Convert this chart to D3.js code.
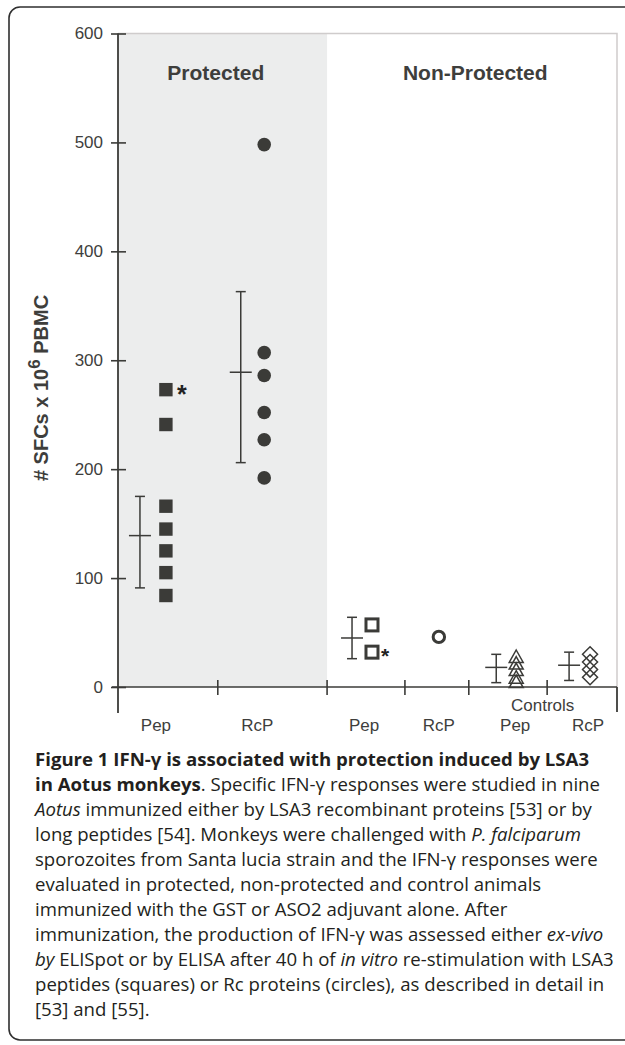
<!DOCTYPE html>
<html>
<head>
<meta charset="utf-8">
<script src="https://cdn.jsdelivr.net/npm/d3@7"></script>
<style>
  body { margin: 0; background: #fff; }
  svg { display: block; }
</style>
</head>
<body>
<div id="chart"></div>
<script>
// Data
const categories = ['Pep', 'RcP', 'Pep', 'RcP', 'Pep', 'RcP'];
const groupNames = ['Protected', 'Non-Protected'];
const controlsLabel = 'Controls';
const yTicks = [0, 100, 200, 300, 400, 500, 600];

const pointValues = [
  [273, 241, 166, 145, 125, 105, 84],
  [498, 307, 286, 252, 227, 192],
  [57, 32],
  [46],
  [28, 22, 16, 9, 5],
  [30, 23, 16, 9]
];
const meanValues = [139, 289, 45, null, 18, 20];
const lowValues = [91, 206, 26, null, 4, 6];
const highValues = [175, 363, 64, null, 30, 32];
// index of the point marked with an asterisk, per category
const starredPoint = [0, null, 1, null, null, null];

const captionLines = [
  [['Figure 1 IFN-\u03b3 is associated with protection induced by LSA3', 'b']],
  [['in Aotus monkeys', 'b'], ['. Specific IFN-\u03b3 responses were studied in nine', 'n']],
  [['Aotus', 'i'], [' immunized either by LSA3 recombinant proteins [53] or by', 'n']],
  [['long peptides [54]. Monkeys were challenged with ', 'n'], ['P. falciparum', 'i']],
  [['sporozoites from Santa lucia strain and the IFN-\u03b3 responses were', 'n']],
  [['evaluated in protected, non-protected and control animals', 'n']],
  [['immunized with the GST or ASO2 adjuvant alone. After', 'n']],
  [['immunization, the production of IFN-\u03b3 was assessed either ', 'n'], ['ex-vivo', 'i']],
  [['by', 'i'], [' ELISpot or by ELISA after 40 h of ', 'n'], ['in vitro', 'i'], [' re-stimulation with LSA3', 'n']],
  [['peptides (squares) or Rc proteins (circles), as described in detail in', 'n']],
  [['[53] and [55].', 'n']]
];

// Layout (x positions in percent of the x axis)
const layout = {
  width: 625, height: 1045,
  left: 118, right: 617, top: 33.5, bottom: 687,
  boundaries: [20.0, 41.9, 57.5, 70.3, 86.0],
  labelPos: [7.6, 27.9, 49.3, 64.3, 79.6, 94.2],
  barPos: [4.4, 24.6, 46.9, null, 75.8, 90.4],
  markPos: [9.6, 29.3, 50.9, 64.3, 79.8, 94.6],
  shapes: ['square', 'circle', 'openSquare', 'openCircle', 'triangle', 'diamond'],
  groupPos: [19.6, 71.6],
  groupY: 557,
  ink: '#3b3b38',
  text: '#3e3e3c',
  shade: '#eceded',
  font: '"Liberation Sans", Arial, sans-serif',
  captionFont: '"Open Sans", sans-serif'
};

const svg = d3.select('#chart').append('svg')
  .attr('width', layout.width)
  .attr('height', layout.height);

const x = d3.scaleLinear().domain([0, 100]).range([layout.left, layout.right]);
const y = d3.scaleLinear().domain([0, 600]).range([layout.bottom, layout.top]);

// Outer frame
svg.append('rect')
  .attr('x', 9).attr('y', 7)
  .attr('width', 660).attr('height', 1033)
  .attr('rx', 11)
  .attr('fill', 'none')
  .attr('stroke', '#2f2f2f')
  .attr('stroke-width', 1.6);

// Shaded "protected" area
svg.append('rect')
  .attr('x', x(0)).attr('y', y(600))
  .attr('width', x(layout.boundaries[1]) - x(0))
  .attr('height', y(0) - y(600))
  .attr('fill', layout.shade);

// Light frame of the plot area
svg.append('path')
  .attr('d', `M${x(0)},${y(600)}H${x(100)}V${y(0)}`)
  .attr('fill', 'none')
  .attr('stroke', '#cfcccc')
  .attr('stroke-width', 1.5);

// Y axis
const yAxis = svg.append('g')
  .attr('transform', `translate(${x(0)},0)`)
  .call(d3.axisLeft(y).tickValues(yTicks).tickSize(0).tickPadding(15));
yAxis.select('.domain').remove();
yAxis.selectAll('.tick line').remove();
yAxis.selectAll('.tick text')
  .attr('fill', layout.text)
  .style('font-family', layout.font)
  .style('font-size', '17px');
yAxis.selectAll('.tick').append('line')
  .attr('x1', -7).attr('x2', 8)
  .attr('stroke', layout.ink).attr('stroke-width', 1.6);
svg.append('line')
  .attr('x1', x(0)).attr('x2', x(0))
  .attr('y1', y(600)).attr('y2', y(0) + 26)
  .attr('stroke', layout.ink).attr('stroke-width', 1.8);

// X axis
svg.append('line')
  .attr('x1', x(0) - 6).attr('x2', x(100))
  .attr('y1', y(0)).attr('y2', y(0))
  .attr('stroke', layout.ink).attr('stroke-width', 1.6);
svg.selectAll('.xtick')
  .data(layout.boundaries)
  .join('line')
  .attr('class', 'xtick')
  .attr('x1', d => x(d)).attr('x2', d => x(d))
  .attr('y1', y(0) - 7).attr('y2', y(0) + 8)
  .attr('stroke', layout.ink).attr('stroke-width', 1.6);
svg.append('line')
  .attr('x1', x(100)).attr('x2', x(100))
  .attr('y1', y(0)).attr('y2', y(0) + 25)
  .attr('stroke', layout.ink).attr('stroke-width', 1.8);

svg.selectAll('.xlabel')
  .data(categories)
  .join('text')
  .attr('class', 'xlabel')
  .attr('x', (d, i) => x(layout.labelPos[i]))
  .attr('y', y(0) + 44)
  .attr('text-anchor', 'middle')
  .attr('fill', layout.text)
  .style('font-family', layout.font)
  .style('font-size', '17px')
  .text(d => d);

svg.append('text')
  .attr('x', (x(layout.labelPos[4]) + x(layout.labelPos[5])) / 2 - 9)
  .attr('y', y(0) + 24)
  .attr('text-anchor', 'middle')
  .attr('fill', layout.text)
  .style('font-family', layout.font)
  .style('font-size', '17px')
  .text(controlsLabel);

// Group titles
svg.selectAll('.group-title')
  .data(groupNames)
  .join('text')
  .attr('class', 'group-title')
  .attr('x', (d, i) => x(layout.groupPos[i]))
  .attr('y', y(layout.groupY))
  .attr('text-anchor', 'middle')
  .attr('fill', layout.text)
  .style('font-family', layout.font)
  .style('font-weight', 'bold')
  .style('font-size', '21px')
  .text(d => d);

// Y axis title
svg.append('text')
  .attr('transform', `translate(48,388) rotate(-90)`)
  .attr('text-anchor', 'middle')
  .attr('fill', layout.text)
  .style('font-family', layout.font)
  .style('font-weight', 'bold')
  .style('font-size', '20px')
  .call(t => {
    t.append('tspan').text('# SFCs x 10');
    t.append('tspan').attr('dy', -8).style('font-size', '17px').text('6');
    t.append('tspan').attr('dy', 8).text(' PBMC');
  });

// Error bars (mean with range)
const bars = categories.map((c, i) => ({
  i, mean: meanValues[i], low: lowValues[i], high: highValues[i]
})).filter(d => d.mean !== null);

const barG = svg.selectAll('.errbar')
  .data(bars)
  .join('g')
  .attr('class', 'errbar')
  .attr('transform', d => `translate(${x(layout.barPos[d.i])},0)`)
  .attr('stroke', layout.ink)
  .attr('stroke-width', 1.5);
barG.append('line')
  .attr('y1', d => y(d.low)).attr('y2', d => y(d.high));
barG.append('line')
  .attr('x1', -5).attr('x2', 5)
  .attr('y1', d => y(d.low)).attr('y2', d => y(d.low));
barG.append('line')
  .attr('x1', -5).attr('x2', 5)
  .attr('y1', d => y(d.high)).attr('y2', d => y(d.high));
barG.append('line')
  .attr('x1', -11).attr('x2', 11)
  .attr('y1', d => y(d.mean)).attr('y2', d => y(d.mean));

// Individual points
const points = [];
pointValues.forEach((vals, i) => {
  vals.forEach((v, j) => points.push({ i, j, v, shape: layout.shapes[i], star: starredPoint[i] === j }));
});

const shapePath = {
  triangle: 'M0,-6.5L7,6L-7,6Z',
  diamond: 'M0,-7.5L7.5,0L0,7.5L-7.5,0Z'
};

const pointG = svg.selectAll('.pt')
  .data(points)
  .join('g')
  .attr('class', 'pt')
  .attr('transform', d => `translate(${x(layout.markPos[d.i])},${y(d.v)})`);

pointG.each(function (d) {
  const g = d3.select(this);
  if (d.shape === 'square') {
    g.append('rect').attr('x', -6.7).attr('y', -6.7).attr('width', 13.4).attr('height', 13.4)
      .attr('fill', layout.ink);
  } else if (d.shape === 'circle') {
    g.append('circle').attr('r', 6.8).attr('fill', layout.ink);
  } else if (d.shape === 'openSquare') {
    g.append('rect').attr('x', -6).attr('y', -6).attr('width', 12).attr('height', 12)
      .attr('fill', '#fff').attr('stroke', layout.ink).attr('stroke-width', 3);
  } else if (d.shape === 'openCircle') {
    g.append('circle').attr('r', 5.7)
      .attr('fill', '#fff').attr('stroke', layout.ink).attr('stroke-width', 3);
  } else {
    g.append('path').attr('d', shapePath[d.shape])
      .attr('fill', 'none').attr('stroke', layout.ink).attr('stroke-width', 1.5);
  }
  if (d.star) {
    g.append('text')
      .attr('x', d.shape === 'square' ? 11 : 9).attr('y', d.shape === 'square' ? 13 : 11)
      .attr('fill', '#222')
      .style('font-family', layout.font)
      .style('font-weight', 'bold')
      .style('font-size', d.shape === 'square' ? '25px' : '21px')
      .text('*');
  }
});

// Caption
const caption = svg.append('g')
  .attr('fill', '#231f20')
  .style('font-family', layout.captionFont)
  .style('font-size', '16px');

const lineNodes = caption.selectAll('text')
  .data(captionLines)
  .join('text')
  .attr('x', 35)
  .attr('y', (d, i) => 766 + i * 25);

lineNodes.each(function (segs) {
  const t = d3.select(this);
  segs.forEach(([txt, st]) => {
    t.append('tspan')
      .style('font-weight', st === 'b' ? 'bold' : null)
      .style('font-style', st === 'i' ? 'italic' : null)
      .text(txt);
  });
});

// fit the caption size to the width of its longest line
const longest = lineNodes.nodes()[8].getComputedTextLength();
caption.style('font-size', `${16 * 579 / longest}px`);
</script>
</body>
</html>
